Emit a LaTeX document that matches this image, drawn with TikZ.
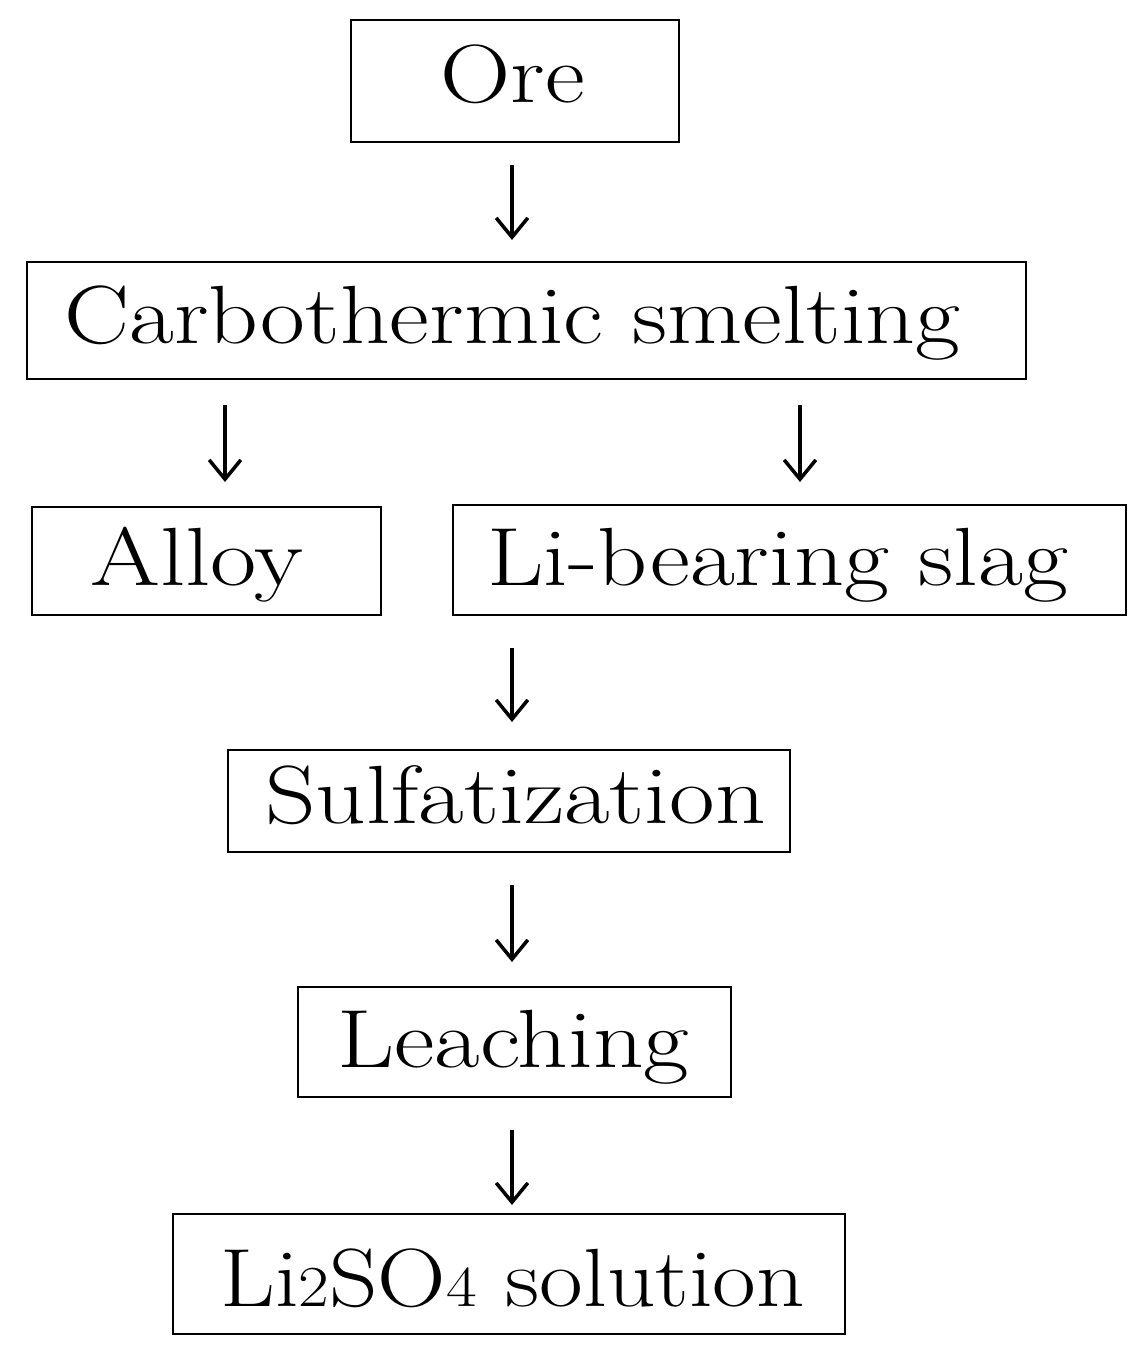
\documentclass[tikz,border=0pt]{standalone}
\usepackage{graphicx}
\usetikzlibrary{arrows.meta}
\newcommand{\wide}[2]{\scalebox{#1}[1]{#2}}
\newcommand{\subnum}[1]{{\fontsize{33}{36}\selectfont #1}}
\begin{document}
\begin{tikzpicture}[x=0.02cm,y=-0.02cm,
  box/.style={draw=black, line width=1.5pt, inner sep=0pt},
  lbl/.style={inner sep=0pt, anchor=base west, font=\fontsize{47}{50}\selectfont},
  arr/.style={line width=2pt, -{Straight Barb[length=11pt,width=18pt,line width=2pt]}}]
\useasboundingbox (0,0) rectangle (1148,1368);
% boxes
\node[box, minimum width=328*0.02cm, minimum height=122*0.02cm] (ore) at (515,81) {};
\node[box, minimum width=999*0.02cm, minimum height=117*0.02cm] (carbo) at (526.5,320.5) {};
\node[box, minimum width=349*0.02cm, minimum height=108*0.02cm] (alloy) at (206.5,561) {};
\node[box, minimum width=673*0.02cm, minimum height=110*0.02cm] (slag) at (789.5,560) {};
\node[box, minimum width=562*0.02cm, minimum height=102*0.02cm] (sulf) at (509,801) {};
\node[box, minimum width=433*0.02cm, minimum height=110*0.02cm] (leach) at (514.5,1042) {};
\node[box, minimum width=672*0.02cm, minimum height=120*0.02cm] (li2so4) at (509,1274) {};
% labels
\node[lbl] (toreo) at (440,103) {\wide{1.18}{Ore}};
\node[lbl] (tcarbo) at (64,343) {\wide{1.18}{Carbothermic smelting}};
\node[lbl] (talloy) at (90,585) {\wide{1.22}{Alloy}};
\node[lbl] (tslag) at (487,585) {\wide{1.185}{Li-bearing slag}};
\node[lbl] (tsulf) at (265,823) {\wide{1.2}{Sulfatization}};
\node[lbl] (tleach) at (337,1067) {\wide{1.2}{Leaching}};
\node[lbl] (tli) at (220,1306) {\wide{1.15}{Li\subnum{2}SO\subnum{4} solution}};
% arrows
\coordinate (a1s) at (512,165); \coordinate (a1e) at (512,240);
\coordinate (a2s) at (225,405); \coordinate (a2e) at (225,482);
\coordinate (a3s) at (800,405); \coordinate (a3e) at (800,482);
\coordinate (a4s) at (512,648); \coordinate (a4e) at (512,722);
\coordinate (a5s) at (512,885); \coordinate (a5e) at (512,962);
\coordinate (a6s) at (512,1130); \coordinate (a6e) at (512,1205);
\draw[arr] (a1s) -- (a1e);
\draw[arr] (a2s) -- (a2e);
\draw[arr] (a3s) -- (a3e);
\draw[arr] (a4s) -- (a4e);
\draw[arr] (a5s) -- (a5e);
\draw[arr] (a6s) -- (a6e);
\end{tikzpicture}
\end{document}
